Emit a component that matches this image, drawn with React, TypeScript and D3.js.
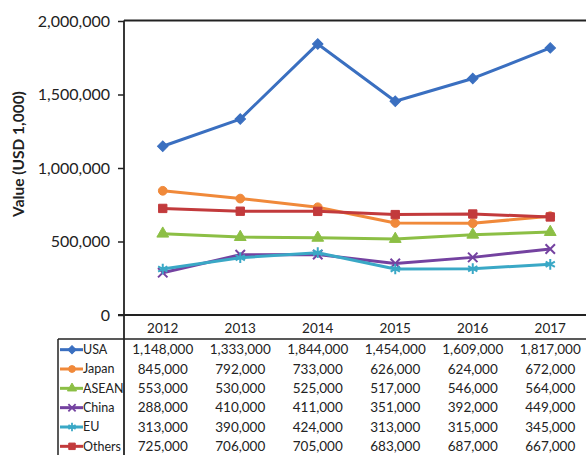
import { useEffect, useRef } from 'react';
import * as d3 from 'd3';

const years = ['2012', '2013', '2014', '2015', '2016', '2017'];
const seriesNames = ['USA', 'Japan', 'ASEAN', 'China', 'EU', 'Others'];
const usa = [1148000, 1333000, 1844000, 1454000, 1609000, 1817000];
const japan = [845000, 792000, 733000, 626000, 624000, 672000];
const asean = [553000, 530000, 525000, 517000, 546000, 564000];
const china = [288000, 410000, 411000, 351000, 392000, 449000];
const eu = [313000, 390000, 424000, 313000, 315000, 345000];
const others = [725000, 706000, 705000, 683000, 687000, 667000];
const yTicks = [0, 500000, 1000000, 1500000, 2000000];

const colors = ['#3a6fc0', '#f0893a', '#8cbf45', '#7442a0', '#3aa8c6', '#c23a3c'];
// USA uses a square turned 45deg (Excel-style diamond)
const symbols = [d3.symbolSquare, d3.symbolCircle, d3.symbolTriangle, d3.symbolTimes, d3.symbolAsterisk, d3.symbolSquare];
const symbolRotate = [45, 0, 0, 0, 0, 0];
const symbolSizes = [55, 60, 60, 60, 80, 70];
const strokeSymbol = [false, false, false, true, true, false];

export default function App() {
  const svgRef = useRef<SVGSVGElement | null>(null);

  useEffect(() => {
    const svg = svgRef.current;
    if (!svg) return;

    const width = 586;
    const height = 455;
    const font = 'Lato, "Open Sans", sans-serif';
    const values = [usa, japan, asean, china, eu, others];

    const x = d3.scaleBand().domain(years).range([124, 589]);
    const cx = (yr: string) => (x(yr) as number) + x.bandwidth() / 2;
    const y = d3.scaleLinear().domain([0, 2000000]).range([315, 21]);

    const root = d3.select(svg);
    root.attr('viewBox', `0 0 ${width} ${height}`);
    root.selectAll('*').remove();

    root.append('rect').attr('width', width).attr('height', height).attr('fill', '#fff');

    // y axis
    root
      .append('g')
      .attr('transform', 'translate(124,0)')
      .call(d3.axisLeft(y).tickValues(yTicks).tickSize(6).tickPadding(8).tickFormat(d3.format(',')))
      .call((g) => g.select('.domain').remove())
      .call((g) => g.selectAll('line').attr('stroke', '#222').attr('stroke-width', 1.5))
      .call((g) =>
        g.selectAll('text').attr('fill', '#222').attr('font-size', 16).attr('font-family', font)
      );

    // frame lines
    root.append('line').attr('x1', 124).attr('x2', 124).attr('y1', 20.5).attr('y2', height)
      .attr('stroke', '#222').attr('stroke-width', 1.8);
    root.append('line').attr('x1', 124).attr('x2', width).attr('y1', 20.5).attr('y2', 20.5)
      .attr('stroke', '#222').attr('stroke-width', 1.8);
    root.append('line').attr('x1', 118).attr('x2', width).attr('y1', 315).attr('y2', 315)
      .attr('stroke', '#222').attr('stroke-width', 1.8);

    // y title
    root
      .append('text')
      .attr('transform', 'translate(24,154) rotate(-90)')
      .attr('text-anchor', 'middle')
      .attr('font-family', font)
      .attr('font-weight', 'bold')
      .attr('font-size', 15.5)
      .attr('fill', '#222')
      .text('Value (USD 1,000)');

    const line = d3
      .line<number>()
      .x((_, i) => cx(years[i]))
      .y((d) => y(d));

    values.forEach((vals, si) => {
      const g = root.append('g');
      g.append('path')
        .datum(vals)
        .attr('fill', 'none')
        .attr('stroke', colors[si])
        .attr('stroke-width', 3)
        .attr('stroke-linejoin', 'round')
        .attr('d', line);
      const sym = d3.symbol().type(symbols[si]).size(symbolSizes[si]);
      g.selectAll('path.m')
        .data(vals)
        .join('path')
        .attr('class', 'm')
        .attr('transform', (d, i) => `translate(${cx(years[i])},${y(d)}) rotate(${symbolRotate[si]})`)
        .attr('d', sym as any)
        .attr('fill', strokeSymbol[si] ? 'none' : colors[si])
        .attr('stroke', colors[si])
        .attr('stroke-width', strokeSymbol[si] ? 2 : 1);
    });

    // data table
    const rowY = d3.scaleBand().domain(seriesNames).range([340, 456]);
    const ry = (n: string) => (rowY(n) as number) + rowY.bandwidth() / 2;

    root.append('line').attr('x1', 58).attr('x2', width).attr('y1', 339).attr('y2', 339)
      .attr('stroke', '#222').attr('stroke-width', 1.5);
    root.append('line').attr('x1', 58).attr('x2', 58).attr('y1', 339).attr('y2', height)
      .attr('stroke', '#222').attr('stroke-width', 1.5);

    root
      .append('g')
      .selectAll('text')
      .data(years)
      .join('text')
      .attr('x', (d) => cx(d))
      .attr('y', 328)
      .attr('dy', '0.35em')
      .attr('text-anchor', 'middle')
      .attr('font-family', font)
      .attr('font-size', 13.5)
      .attr('fill', '#222')
      .text((d) => d);

    seriesNames.forEach((name, si) => {
      const yy = ry(name);
      const g = root.append('g');
      g.append('line').attr('x1', 60).attr('x2', 83).attr('y1', yy).attr('y2', yy)
        .attr('stroke', colors[si]).attr('stroke-width', 3);
      g.append('path')
        .attr('transform', `translate(72,${yy}) rotate(${symbolRotate[si]})`)
        .attr('d', d3.symbol().type(symbols[si]).size(symbolSizes[si] * 0.6)() as string)
        .attr('fill', strokeSymbol[si] ? 'none' : colors[si])
        .attr('stroke', colors[si])
        .attr('stroke-width', strokeSymbol[si] ? 1.8 : 1);
      g.append('text')
        .attr('x', 83)
        .attr('y', yy)
        .attr('dy', '0.35em')
        .attr('font-family', font)
        .attr('font-size', 12.5)
        .attr('fill', '#222')
        .text(name);
      g.selectAll('text.v')
        .data(values[si])
        .join('text')
        .attr('class', 'v')
        .attr('x', (_, i) => cx(years[i]))
        .attr('y', yy)
        .attr('dy', '0.35em')
        .attr('text-anchor', 'middle')
        .attr('font-family', font)
        .attr('font-size', 13.5)
        .attr('fill', '#222')
        .text((d) => d3.format(',')(d));
    });
  }, []);

  return (
    <svg
      ref={svgRef}
      width={586}
      height={455}
      style={{ position: 'absolute', left: 0, top: 0, display: 'block' }}
    />
  );
}
